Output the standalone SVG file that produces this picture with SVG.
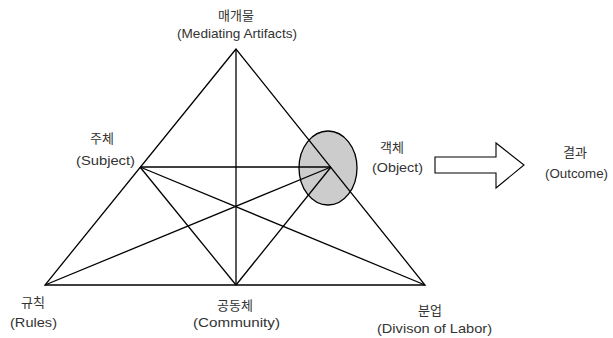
<svg xmlns="http://www.w3.org/2000/svg" width="613" height="338" viewBox="0 0 613 338">
<style>
.ln{stroke:#000;stroke-width:1.3;fill:none}
.ko{font-family:"Noto Sans CJK KR","Noto Sans",sans-serif;font-size:13px;fill:#333;text-anchor:middle}
.en{font-family:"Liberation Sans",Arial,sans-serif;font-size:13px;fill:#333;text-anchor:middle}
</style>
<rect width="613" height="338" fill="#fff"/>
<g id="object-ellipse">
<ellipse cx="328" cy="168" rx="29" ry="37" fill="#cccccc" stroke="#000" stroke-width="1.3"/>
</g>
<g id="connectors">
<polygon class="ln" points="236,49 45,285 425,285"/>
<line class="ln" x1="236" y1="49" x2="236" y2="285"/>
<line class="ln" x1="140" y1="167" x2="331" y2="167"/>
<line class="ln" x1="140" y1="167" x2="425" y2="285"/>
<line class="ln" x1="140" y1="167" x2="236" y2="285"/>
<line class="ln" x1="45" y1="285" x2="331" y2="167"/>
<line class="ln" x1="236" y1="285" x2="331" y2="167"/>
<polygon id="outcome-arrow" points="435,157 496,157 496,143 524,165 496,188 496,173 435,173" fill="#fff" stroke="#000" stroke-width="1.1"/>
</g>
<g id="mediating">
<text class="ko" x="236" y="20">매개물</text>
<text class="en" x="237" y="38" textLength="120" lengthAdjust="spacingAndGlyphs">(Mediating Artifacts)</text>
</g>
<g id="subject">
<text class="ko" x="102" y="143">주체</text>
<text class="en" x="105.5" y="165" textLength="59" lengthAdjust="spacingAndGlyphs">(Subject)</text>
</g>
<g id="object">
<text class="ko" x="392" y="152">객체</text>
<text class="en" x="397.5" y="172" textLength="51" lengthAdjust="spacingAndGlyphs">(Object)</text>
</g>
<g id="outcome">
<text class="ko" x="575" y="157">결과</text>
<text class="en" x="576.5" y="178" textLength="63" lengthAdjust="spacingAndGlyphs">(Outcome)</text>
</g>
<g id="rules">
<text class="ko" x="33" y="307">규칙</text>
<text class="en" x="33.5" y="327" textLength="47" lengthAdjust="spacingAndGlyphs">(Rules)</text>
</g>
<g id="community">
<text class="ko" x="235" y="310">공동체</text>
<text class="en" x="236.5" y="327" textLength="87" lengthAdjust="spacingAndGlyphs">(Community)</text>
</g>
<g id="division">
<text class="ko" x="430" y="315">분업</text>
<text class="en" x="434.5" y="333" textLength="115" lengthAdjust="spacingAndGlyphs">(Divison of Labor)</text>
</g>
</svg>
